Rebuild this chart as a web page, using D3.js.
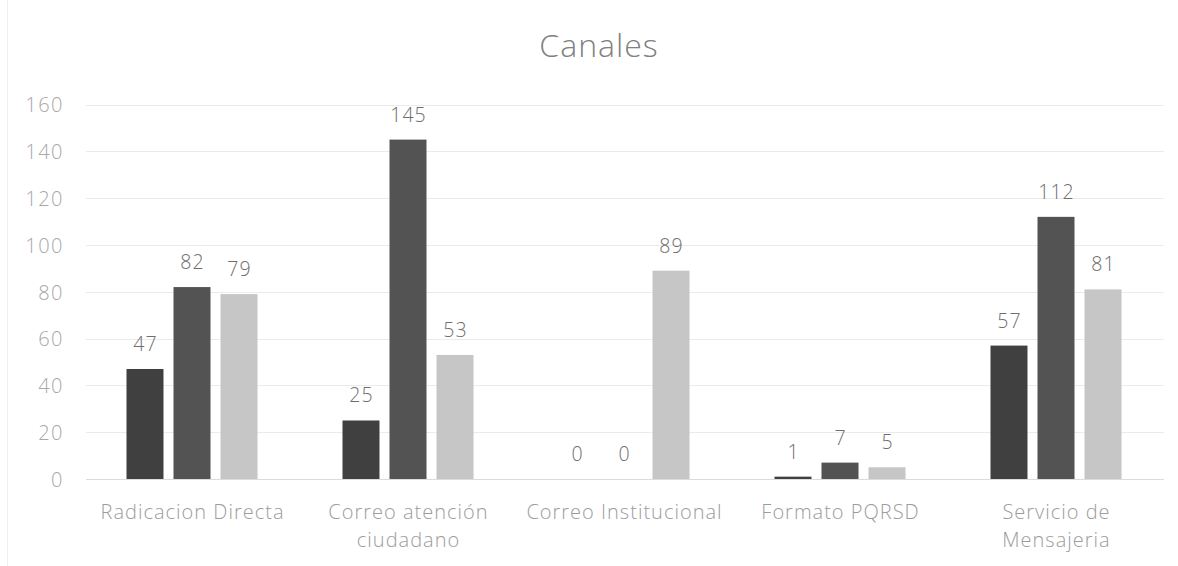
<!DOCTYPE html>
<html>
<head>
<meta charset="utf-8">
<script src="https://cdn.jsdelivr.net/npm/d3@7"></script>
<style>
  html, body { margin: 0; padding: 0; background: #fff; }
  svg { display: block; }
</style>
</head>
<body>
<svg id="chart" width="1178" height="566"></svg>
<script>
const title = "Canales";
const categories = [
  ["Radicacion Directa"],
  ["Correo atención", "ciudadano"],
  ["Correo Institucional"],
  ["Formato PQRSD"],
  ["Servicio de", "Mensajeria"]
];
const seriesNames = ["Serie 1", "Serie 2", "Serie 3"];
const series1 = [47, 25, 0, 1, 57];
const series2 = [82, 145, 0, 7, 112];
const series3 = [79, 53, 89, 5, 81];
const yTicks = [0, 20, 40, 60, 80, 100, 120, 140, 160];
const colors = ["#404040", "#535353", "#c6c6c6"];

(function () {
const allSeries = [series1, series2, series3];
const svg = d3.select("#chart");
const W = 1178, H = 566;
const pLeft = 84, pRight = 1164, pTop = 104.5, pBottom = 479;
const FONT = "'Open Sans', Lato, sans-serif";

const catKeys = categories.map((c, i) => i);
const x0 = d3.scaleBand().domain(catKeys).range([pLeft, pRight]).padding(0);
const x1 = d3.scaleBand().domain(d3.range(seriesNames.length))
  .range([0, x0.bandwidth()]).paddingInner(0.213).paddingOuter(0.904);
const y = d3.scaleLinear().domain([0, 160]).range([pBottom, pTop]);

// faint outer frame edge
svg.append("line").attr("x1", 7.5).attr("x2", 7.5).attr("y1", 0).attr("y2", H)
  .attr("stroke", "#efefef").attr("stroke-width", 1);

// gridlines
svg.append("g").selectAll("line").data(yTicks).join("line")
  .attr("x1", 86).attr("x2", pRight)
  .attr("y1", d => Math.round(y(d)) + 0.5).attr("y2", d => Math.round(y(d)) + 0.5)
  .attr("stroke", d => d === 0 ? "#dcdcdc" : "#ebebeb").attr("stroke-width", 1);

// y axis labels
const yAxis = d3.axisLeft(y).tickValues(yTicks).tickSize(0).tickPadding(0);
const gy = svg.append("g").attr("transform", "translate(64,1)").call(yAxis);
gy.select(".domain").remove();
gy.selectAll("text").attr("fill", "#a8a8a8")
  .style("font-family", FONT).style("font-size", "20px").style("font-weight", 300)
  .style("letter-spacing", "1.5px");

// bars
const groups = svg.append("g").selectAll("g").data(catKeys).join("g")
  .attr("transform", d => `translate(${x0(d)},0)`);

groups.selectAll("rect").data(ci => allSeries.map((s, si) => ({ si, v: s[ci] }))).join("rect")
  .attr("x", d => x1(d.si))
  .attr("width", x1.bandwidth())
  .attr("y", d => d.v === 0 ? y(0) : y(d.v))
  .attr("height", d => d.v === 0 ? 0 : Math.max(1.5, y(0) - y(d.v)))
  .attr("fill", d => colors[d.si]);

groups.selectAll("text.val").data(ci => allSeries.map((s, si) => ({ si, v: s[ci] }))).join("text")
  .attr("class", "val")
  .attr("x", d => x1(d.si) + x1.bandwidth() / 2 + 0.5)
  .attr("y", d => y(d.v) - 18)
  .attr("text-anchor", "middle")
  .attr("fill", "#6e6e6e")
  .style("font-family", FONT).style("font-size", "19.5px").style("font-weight", 300)
  .style("letter-spacing", "1px")
  .text(d => d.v);

// category labels
const xl = svg.append("g");
categories.forEach((lines, i) => {
  const cx = x0(i) + x0.bandwidth() / 2 + 0.5;
  const t = xl.append("text")
    .attr("x", cx)
    .attr("y", 519)
    .attr("text-anchor", "middle")
    .attr("fill", "#9c9c9c")
    .style("font-family", FONT).style("font-size", "20px").style("font-weight", 300)
    .style("letter-spacing", "1px");
  lines.forEach((ln, j) => {
    t.append("tspan").attr("x", cx).attr("dy", j === 0 ? 0 : 28).text(ln);
  });
});

// title
svg.append("text").attr("x", 599).attr("y", 57).attr("text-anchor", "middle")
  .attr("fill", "#808080")
  .style("font-family", FONT).style("font-size", "32px").style("font-weight", 300)
  .style("letter-spacing", "1px")
  .text(title);
})();
</script>
</body>
</html>
